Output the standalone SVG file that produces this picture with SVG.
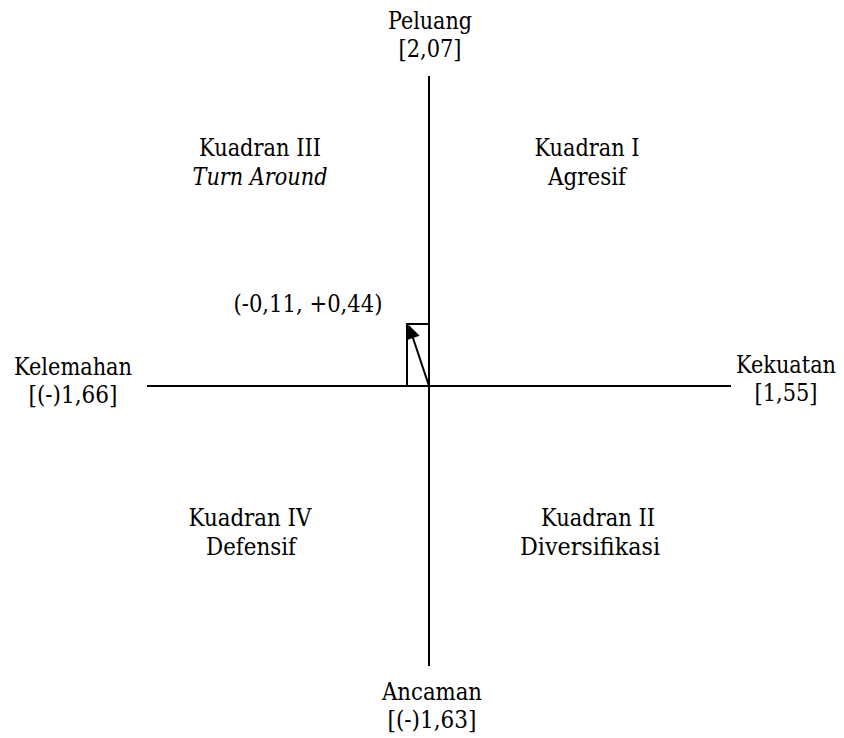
<svg xmlns="http://www.w3.org/2000/svg" width="844" height="738" viewBox="0 0 844 738">
  <style>
    text { font-family: 'DejaVu Serif', serif; font-stretch: condensed; font-size: 24px; fill: #000; text-anchor: middle; }
    .it { font-style: italic; }
    .ax { stroke: #000; stroke-width: 2; fill: none; }
  </style>
  <defs>
    <marker id="head" viewBox="0 0 10 10" refX="9" refY="5" markerWidth="8" markerHeight="7" orient="auto" markerUnits="strokeWidth">
      <path d="M0,0 L10,5 L0,10 z" fill="#000"/>
    </marker>
  </defs>
  <rect width="844" height="738" fill="#fff"/>
  <!-- axes, reference box and the position vector -->
  <g id="connectors">
    <line class="ax" x1="429" y1="76" x2="429" y2="666"/>
    <line class="ax" x1="147" y1="386" x2="731" y2="386"/>
    <polyline class="ax" points="407,386 407,324 429,324"/>
    <line class="ax" x1="429" y1="386" x2="409" y2="326" marker-end="url(#head)"/>
  </g>
  <g id="peluang"><text x="430" y="29" textLength="84" lengthAdjust="spacingAndGlyphs">Peluang</text><text x="430" y="57" textLength="63" lengthAdjust="spacingAndGlyphs">[2,07]</text></g>
  <g id="kelemahan"><text x="73" y="375" textLength="118" lengthAdjust="spacingAndGlyphs">Kelemahan</text><text x="73" y="403" textLength="89" lengthAdjust="spacingAndGlyphs">[(-)1,66]</text></g>
  <g id="kekuatan"><text x="786" y="373" textLength="100" lengthAdjust="spacingAndGlyphs">Kekuatan</text><text x="786" y="401" textLength="63" lengthAdjust="spacingAndGlyphs">[1,55]</text></g>
  <g id="ancaman"><text x="432" y="700" textLength="100" lengthAdjust="spacingAndGlyphs">Ancaman</text><text x="432" y="728" textLength="89" lengthAdjust="spacingAndGlyphs">[(-)1,63]</text></g>
  <g id="kuadran3"><text x="260" y="156" textLength="122" lengthAdjust="spacingAndGlyphs">Kuadran III</text><text class="it" x="260" y="185" textLength="135" lengthAdjust="spacingAndGlyphs">Turn Around</text></g>
  <g id="kuadran1"><text x="587" y="156" textLength="105" lengthAdjust="spacingAndGlyphs">Kuadran I</text><text x="587" y="185" textLength="78" lengthAdjust="spacingAndGlyphs">Agresif</text></g>
  <g id="kuadran4"><text x="250" y="526" textLength="123" lengthAdjust="spacingAndGlyphs">Kuadran IV</text><text x="251" y="555" textLength="90" lengthAdjust="spacingAndGlyphs">Defensif</text></g>
  <g id="kuadran2"><text x="598" y="526" textLength="114" lengthAdjust="spacingAndGlyphs">Kuadran II</text><text x="590" y="555" textLength="140" lengthAdjust="spacingAndGlyphs">Diversifikasi</text></g>
  <g id="titik"><text x="308" y="312" textLength="149" lengthAdjust="spacingAndGlyphs">(-0,11, +0,44)</text></g>
</svg>
